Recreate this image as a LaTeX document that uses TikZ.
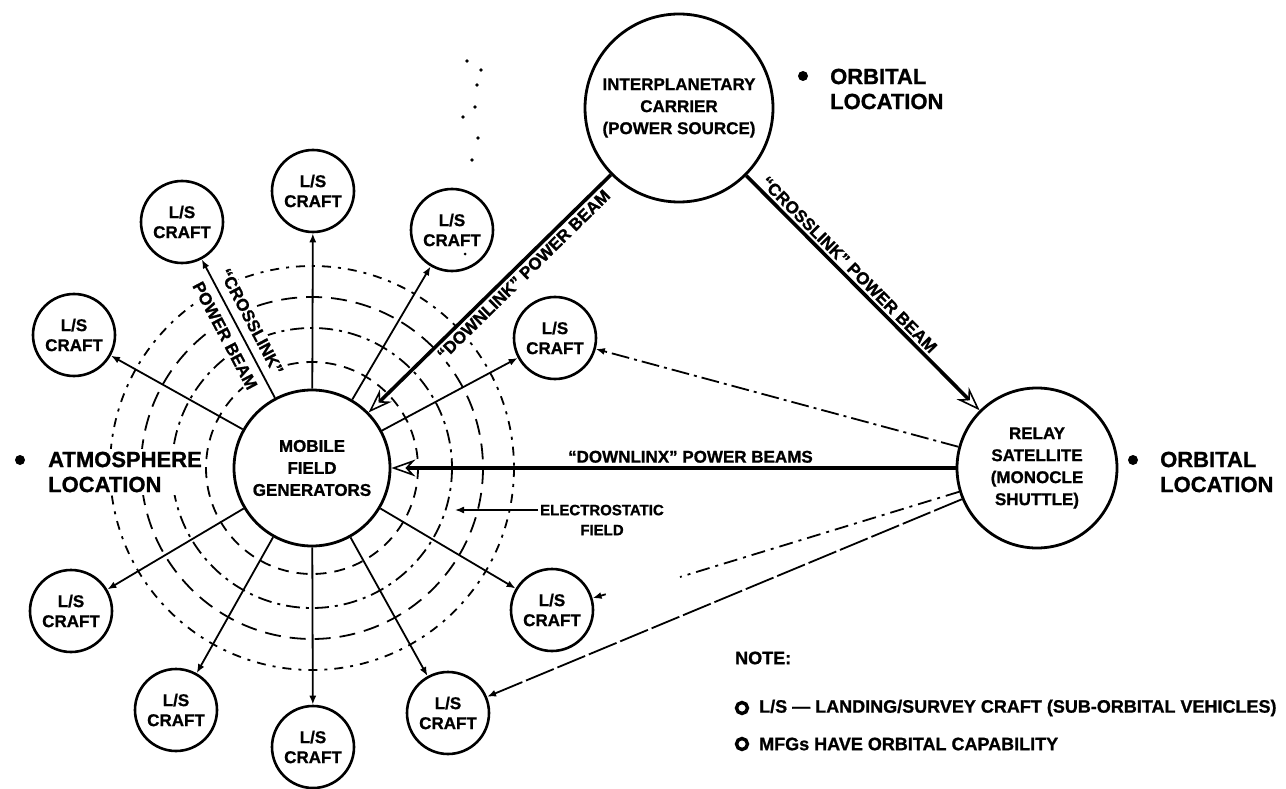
\documentclass[tikz,border=0pt]{standalone}
\usepackage{fontspec}
\setmainfont{Liberation Sans}[BoldFeatures={FakeBold=1}]
\usetikzlibrary{arrows.meta,calc}
\newcommand\myfs[2]{\fontsize{#1}{#2}\selectfont}
\begin{document}
\begin{tikzpicture}[x=1pt,y=-1pt,
  bignode/.style={circle, draw, line width=2.8pt, inner sep=0pt, align=center, font=\bfseries\myfs{17}{22}},
  craft/.style={circle, draw, line width=2.6pt, minimum size=82pt, inner sep=0pt, align=center, font=\bfseries\myfs{17}{20}},
  link/.style={line width=1.8pt, -{Latex[length=9pt,width=7pt]}},
  beam/.style={line width=3.6pt, -{Stealth[open,length=24pt,width=17pt,line width=1.6pt]}},
  beamlabel/.style={font=\bfseries\myfs{17}{20}, inner sep=2pt},
  bigtext/.style={font=\bfseries\myfs{22}{25}, align=left, anchor=west, inner sep=0pt},
  bulletdot/.style={circle, fill, inner sep=0pt, minimum size=10pt},
  notebullet/.style={circle, draw, line width=3.4pt, inner sep=0pt, minimum size=11pt},
  notetext/.style={font=\bfseries\myfs{18}{21}, anchor=west, inner sep=0pt},
  field/.style={line width=1.8pt}
]
\fill[white] (0,0) rectangle (1286,789);
\useasboundingbox (0,0) rectangle (1286,789);

% main nodes
\node[bignode, minimum size=156pt] (mfg) at (312,468) {MOBILE\\FIELD\\GENERATORS};
\node[bignode, minimum size=188pt] (ic) at (679,108) {INTERPLANETARY\\CARRIER\\(POWER SOURCE)};
\node[bignode, minimum size=160pt] (relay) at (1037,468) {RELAY\\SATELLITE\\(MONOCLE\\SHUTTLE)};

% L/S craft
\node[craft] (w1)  at (74,335)  {L/S\\CRAFT};
\node[craft] (ul)  at (182,222) {L/S\\CRAFT};
\node[craft] (top) at (313,191) {L/S\\CRAFT};
\node[craft] (ur)  at (452,230) {L/S\\CRAFT};
\node[craft] (mr)  at (555,338) {L/S\\CRAFT};
\node[craft] (lrm) at (552,610) {L/S\\CRAFT};
\node[craft] (br)  at (448,713) {L/S\\CRAFT};
\node[craft] (bc)  at (313,747) {L/S\\CRAFT};
\node[craft] (bl)  at (176,710) {L/S\\CRAFT};
\node[craft] (ll)  at (71,611)  {L/S\\CRAFT};

% electrostatic field
\draw[field, dash pattern=on 11pt off 8pt] (mfg.center) circle[radius=106];
\draw[field, dash pattern=on 14pt off 6pt on 3pt off 6pt] (mfg.center) circle[radius=140];
\draw[field, dash pattern=on 16pt off 9pt] (mfg.center) circle[radius=171];
\draw[field, dash pattern=on 9pt off 7pt on 3pt off 7pt] (mfg.center) circle[radius=202];

% dotted trace at top
\foreach \p in {(467,61),(481,70),(477,85),(475,107),(463,117),(478,138),(472,160)}
  \fill \p circle[radius=1.8];
\fill (465,254) circle[radius=1.5];

% side labels
\node[bulletdot] (b1) at (20,460) {};
\node[bigtext, fill=white, inner sep=3pt] (atm) at (45,472) {ATMOSPHERE\\LOCATION};
\node[bulletdot] (b2) at (803,76) {};
\node[bigtext] (orb1) at (830,89) {ORBITAL\\LOCATION};
\node[bulletdot] (b3) at (1133,460) {};
\node[bigtext] (orb2) at (1160,472) {ORBITAL\\LOCATION};

% notes
\node[notetext] (note) at (735,658) {NOTE:};
\node[notebullet] (nb1) at (742,708) {};
\node[notetext] (n1) at (759,708) {L/S — LANDING/SURVEY CRAFT (SUB-ORBITAL VEHICLES)};
\node[notebullet] (nb2) at (742,744) {};
\node[notetext] (n2) at (759,744) {MFGs HAVE ORBITAL CAPABILITY};

% beam labels
\path (mfg) -- (ul) node[midway, sloped, align=center, fill=white, inner sep=2pt, font=\bfseries\myfs{17}{30}] (lx1) {“CROSSLINK”\\POWER BEAM};
\path (ic) -- (mfg) node[pos=0.39, sloped, below=2pt, beamlabel, fill=white] (ldown) {“DOWNLINK” POWER BEAM};
\path (ic) -- (relay) node[pos=0.41, sloped, above=2pt, beamlabel] (lcross) {“CROSSLINK” POWER BEAM};
\path (relay) -- (mfg) node[pos=0.47, above=3pt, beamlabel] (ldownh) {“DOWNLINX” POWER BEAMS};

% electrostatic label
\node[align=center, fill=white, inner sep=2pt, font=\bfseries\myfs{15}{20}] (esl) at (602,520) {ELECTROSTATIC\\FIELD};
\coordinate (estip) at (455,510);
\draw[link, line width=1.5pt] (esl.west |- estip) -- (estip);

% craft links
\draw[link] (mfg) -- (w1);
\draw[link] (mfg) -- (ul);
\draw[link] (mfg) -- (top);
\draw[link] (mfg) -- (ur);
\draw[link] (mfg) -- (mr);
\draw[link] (mfg) -- (lrm);
\draw[link] (mfg) -- (br);
\draw[link] (mfg) -- (bc);
\draw[link] (mfg) -- (bl);
\draw[link] (mfg) -- (ll);

% power beams
\draw[beam] (ic) -- (mfg);
\draw[beam] (ic) -- (relay);
\draw[beam, line width=4pt] (relay) -- (mfg);

% relay links
\draw[link, dash pattern=on 18pt off 5pt on 3pt off 5pt] (relay) -- (mr);
\coordinate (lrmgap) at (680,577);
\draw[field, dash pattern=on 14pt off 6pt on 3pt off 6pt] (relay) -- (lrmgap);
\draw[link] ($(lrm)!56pt!(relay)$) -- (lrm);
\draw[link, dash pattern=on 30pt off 4pt] (relay) -- (br);
\end{tikzpicture}
\end{document}
